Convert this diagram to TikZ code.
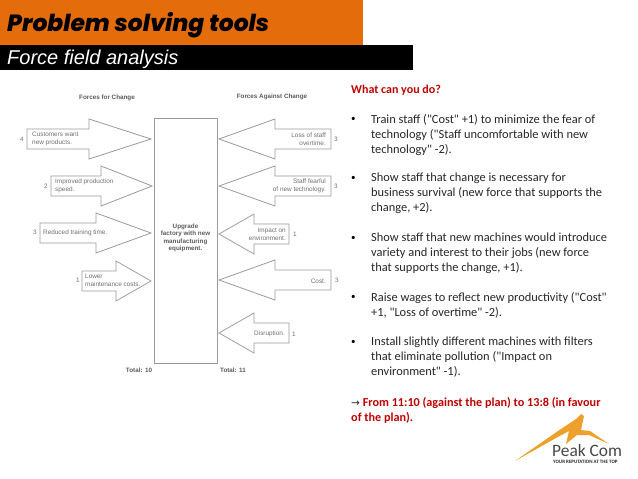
\documentclass[tikz,border=0pt]{standalone}
\usepackage{fontspec}
\usepackage{tikz}
\usetikzlibrary{positioning}
\newfontfamily\bodyfont{Carlito}
\newfontfamily\arialfont{Liberation Sans}
\newfontfamily\arrowfont{DejaVu Sans}
\newfontfamily\titlefont{Poppins ExtraBold Italic}
\definecolor{barorange}{HTML}{E46C0A}
\definecolor{peakorange}{HTML}{EDA02B}
\definecolor{fadegray}{HTML}{9A9A9A}
\definecolor{fadetext}{HTML}{707070}
\definecolor{fadebold}{HTML}{5A5A5A}
\definecolor{bodytext}{HTML}{262626}
\definecolor{headred}{HTML}{C00000}
\tikzset{
    forcearrow/.style={draw=fadegray, line width=0.8pt, line join=miter, fill=white},
    smalltext/.style={font=\arialfont\fontsize{6.4}{7.6}\selectfont, text=fadetext, inner sep=0pt},
    smallbold/.style={smalltext, text=fadebold, font=\arialfont\bfseries\fontsize{6.3}{7.5}\selectfont},
    bodynode/.style={font=\bodyfont\fontsize{12.4}{15}\selectfont, text=bodytext, align=left, anchor=north west, inner sep=0pt},
    bulletnode/.style={font=\bodyfont\fontsize{9}{9}\selectfont, text=black, anchor=west, inner sep=0pt},
    rednode/.style={bodynode, text=headred, font=\bodyfont\bfseries\fontsize{12.2}{15}\selectfont},
}
% tail end x, head base x, tip x, centre y
\newcommand{\forceshape}[4]{
    \draw[forcearrow] (#1,#4-10) -- (#2,#4-10) -- (#2,#4-20) -- (#3,#4) -- (#2,#4+20) -- (#2,#4+10) -- (#1,#4+10) -- cycle;
}
\begin{document}
\begin{tikzpicture}[x=1pt, y=-1pt]
    \useasboundingbox (0,0) rectangle (638,479);
    \fill[barorange] (0,0) rectangle (363,45);
    \fill[black] (0,45) rectangle (413,70);
    \node[anchor=west, inner sep=0pt, font=\titlefont\fontsize{23.4}{25}\selectfont] (title) at (7,25) {Problem solving tools};
    \node[anchor=west, inner sep=0pt, text=white, font=\arialfont\itshape\fontsize{20}{20}\selectfont] (subtitle) at (7,59) {Force field analysis};

    % left forces
    \node[smallbold] (forhead) at (107,98) {Forces for Change};
    \forceshape{27}{89}{151}{139}
    \forceshape{51}{101}{152}{186}
    \forceshape{40}{96}{151}{233}
    \forceshape{82}{116}{151}{281}
    \node[smalltext, anchor=west, align=left] (customers) at (32,139) {Customers want\\new products.};
    \node[smalltext, anchor=west, align=left] (improved) at (55,186) {Improved production\\speed.};
    \node[smalltext, anchor=west] (reduced) at (43,233) {Reduced training time.};
    \node[smalltext, anchor=west, align=left] (lower) at (85,280.5) {Lower\\maintenance costs.};
    \node[smalltext] (n4) at (22,139) {4};
    \node[smalltext] (n2) at (46,186) {2};
    \node[smalltext] (n3) at (35,232) {3};
    \node[smalltext] (n1) at (78,280) {1};
    \node[smallbold] (totalfor) at (139,370) {Total: 10};

    % centre box
    \draw[draw=fadegray, line width=0.8pt] (154,118) rectangle (217,363);
    \node[smallbold, align=center] (plan) at (185.5,238) {Upgrade\\factory with new\\manufacturing\\equipment.};

    % right forces
    \node[smallbold] (againsthead) at (272,97) {Forces Against Change};
    \forceshape{331}{275}{219}{139}
    \forceshape{331}{275}{219}{186}
    \forceshape{289}{254}{219}{234}
    \forceshape{331}{275}{219}{280}
    \forceshape{289}{254}{219}{333}
    \node[smalltext, anchor=east, align=right] (loss) at (326,139) {Loss of staff\\overtime.};
    \node[smalltext, anchor=east, align=right] (fearful) at (326,186) {Staff fearful\\of new technology.};
    \node[smalltext, anchor=east, align=right] (impact) at (286,234.5) {Impact on\\environment.};
    \node[smalltext, anchor=east] (cost) at (326,281) {Cost.};
    \node[smalltext, anchor=east] (disruption) at (285,334) {Disruption.};
    \node[smalltext] (m3a) at (336,139) {3};
    \node[smalltext] (m3b) at (336,186) {3};
    \node[smalltext] (m1a) at (295,234) {1};
    \node[smalltext] (m3c) at (337,280) {3};
    \node[smalltext] (m1b) at (294,334) {1};
    \node[smallbold] (totalagainst) at (233,370) {Total: 11};

    % text column
    \node[rednode, font=\bodyfont\bfseries\fontsize{12}{15}\selectfont] (whatcan) at (351,84.5) {What can you do?};
    \node[bodynode] (train) at (371,114) {Train staff ("Cost" +1) to minimize the fear of\\technology ("Staff uncomfortable with new\\technology" -2).};
    \node[bodynode] (show) at (371,173) {Show staff that change is necessary for\\business survival (new force that supports the\\change, +2).};
    \node[bodynode] (machines) at (371,233) {Show staff that new machines would introduce\\variety and interest to their jobs (new force\\that supports the change, +1).};
    \node[bodynode] (raise) at (371,292) {Raise wages to reflect new productivity ("Cost"\\+1, "Loss of overtime" -2).};
    \node[bodynode] (install) at (371,337) {Install slightly different machines with filters\\that eliminate pollution ("Impact on\\environment" -1).};
    \node[bulletnode] (b1) at (351,119) {•};
    \node[bulletnode] (b2) at (351,178) {•};
    \node[bulletnode] (b3) at (351,238) {•};
    \node[bulletnode] (b4) at (351,297) {•};
    \node[bulletnode] (b5) at (351,342) {•};
    \node[rednode] (result) at (351,397) {{\color{bodytext}\arrowfont\mdseries\fontsize{10.5}{15}\selectfont →} From 11:10 (against the plan) to 13:8 (in favour\\of the plan).};

    % logo
    \fill[peakorange] (515,461) -- (558,431) -- (576,419) -- (581,414) -- (584,416) -- (581,430) -- (590,431) -- (609,444) -- (589,435) -- (577,435) -- (566,444) -- (569,431) -- (556,438) -- cycle;
    \node[anchor=west, inner sep=0pt, text=bodytext!85, font=\bodyfont\fontsize{17.4}{17}\selectfont] (peakcom) at (552,451) {Peak Com};
    \node[anchor=west, inner sep=0pt, text=bodytext, font=\bodyfont\bfseries\fontsize{5}{5}\selectfont] (slogan) at (553,461.5) {YOUR REPUTATION AT THE TOP};
\end{tikzpicture}
\end{document}
